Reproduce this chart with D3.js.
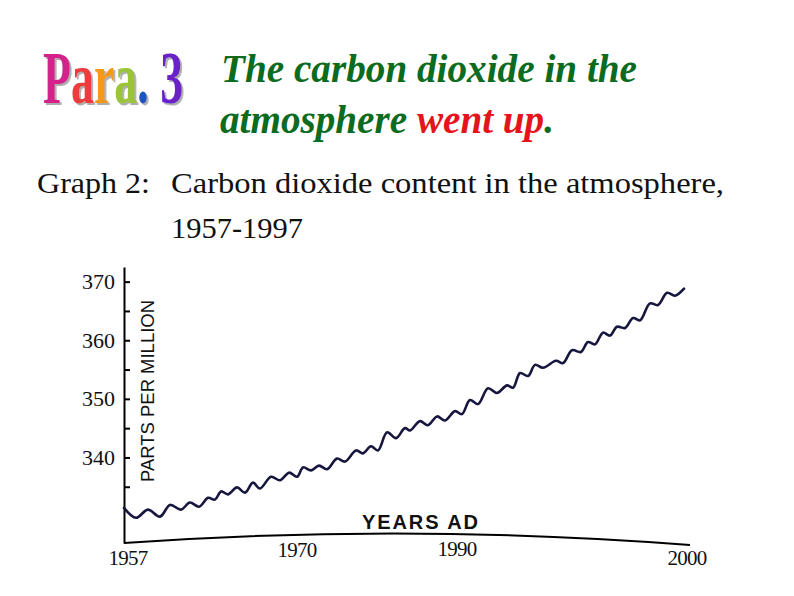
<!DOCTYPE html>
<html>
<head>
<meta charset="utf-8">
<script src="https://cdn.jsdelivr.net/npm/d3@7"></script>
<style>
  body { margin: 0; background: #fff; }
</style>
</head>
<body>
<div id="slide"></div>
<script>
// CO2 curve: the peaks and troughs of the yearly wiggle
const years = [1957.0, 1957.86, 1958.71, 1959.57, 1960.29, 1961.07, 1961.71, 1962.36, 1963.0, 1963.5,
  1963.93, 1964.43, 1965.07, 1965.64, 1966.21, 1966.71, 1967.5, 1968.14, 1968.79, 1969.36,
  1969.79, 1970.36, 1970.93, 1971.5, 1972.21, 1972.79, 1973.57, 1974.07, 1974.64, 1975.14,
  1975.79, 1976.43, 1977.07, 1977.43, 1978.14, 1978.71, 1979.36, 1979.93, 1980.64, 1981.14,
  1981.71, 1982.29, 1983.0, 1983.64, 1984.36, 1984.79, 1985.29, 1985.86, 1986.36, 1986.93,
  1987.86, 1988.36, 1989.0, 1989.64, 1990.14, 1990.64, 1991.21, 1991.71, 1992.21, 1992.79,
  1993.36, 1993.86, 1994.57, 1995.14, 1995.79, 1996.36, 1997.0];
const ppm = [331.4, 329.7, 331.1, 329.9, 331.9, 331.1, 332.3, 331.6, 333.1, 332.8,
  334.2, 333.7, 334.9, 334.0, 335.7, 334.7, 336.7, 336.1, 337.4, 336.7,
  338.3, 337.8, 338.6, 338.0, 339.8, 339.3, 341.2, 340.7, 341.9, 341.2,
  344.3, 343.3, 345.0, 344.6, 346.2, 345.5, 347.0, 346.3, 347.9, 347.4,
  349.8, 349.1, 351.8, 351.0, 352.3, 351.9, 354.4, 353.9, 355.8, 355.3,
  356.5, 356.1, 358.3, 358.0, 359.7, 359.3, 361.3, 360.8, 362.3, 362.1,
  363.8, 363.4, 366.3, 366.0, 368.1, 367.6, 368.8];

const yTickValues = [335, 340, 345, 350, 355, 360, 365, 370];
const yLabelValues = [340, 350, 360, 370];
const xTickLabels = [1957, 1970, 1990, 2000];

const titleLetters = ["P", "a", "r", "a", ".", " 3"];
const titleColors = ["#d3218c", "#ee3a3a", "#f39a1e", "#9cc43a", "#1f55c0", "#6a22c8"];

const WIDTH = 794, HEIGHT = 596;
const AXIS_X = 124, AXIS_TOP = 267, AXIS_BOTTOM = 543;

let svg = d3.select("#slide")
  .append("svg")
  .attr("width", WIDTH)
  .attr("height", HEIGHT)
  .style("font-family", "'Liberation Serif', 'Times New Roman', serif");

svg.append("rect").attr("width", WIDTH).attr("height", HEIGHT).attr("fill", "#fff");

// soft gray shadow behind the word-art
svg.append("defs")
  .append("filter")
  .attr("id", "shade")
  .attr("x", "-10%").attr("y", "-10%").attr("width", "130%").attr("height", "130%")
  .append("feDropShadow")
  .attr("dx", 3).attr("dy", 2)
  .attr("stdDeviation", 0.6)
  .attr("flood-color", "#9a9a9a")
  .attr("flood-opacity", 0.8);

// "Para. 3" word-art, squeezed sideways like the original
svg.append("text")
  .attr("transform", "translate(43,103) scale(0.62,1)")
  .attr("font-size", 74)
  .attr("font-weight", "bold")
  .attr("filter", "url(#shade)")
  .style("white-space", "pre")
  .selectAll("tspan")
  .data(titleLetters)
  .join("tspan")
    .attr("fill", (d, i) => titleColors[i])
    .text(d => d);

// green / red heading
let head = svg.append("g")
  .attr("font-size", 39)
  .attr("font-weight", "bold")
  .attr("font-style", "italic")
  .attr("fill", "#0b6b20");
head.append("text").attr("x", 221).attr("y", 82)
  .attr("textLength", 416).attr("lengthAdjust", "spacingAndGlyphs")
  .text("The carbon dioxide in the");
let line2 = head.append("text").attr("x", 220).attr("y", 133)
  .attr("textLength", 334).attr("lengthAdjust", "spacingAndGlyphs");
line2.append("tspan").text("atmosphere ");
line2.append("tspan").attr("fill", "#e5141b").text("went up");
line2.append("tspan").text(".");

// graph caption
let cap = svg.append("g").attr("font-size", 30).attr("fill", "#111");
cap.append("text").attr("x", 37).attr("y", 193)
  .attr("textLength", 113).attr("lengthAdjust", "spacingAndGlyphs").text("Graph 2:");
cap.append("text").attr("x", 171).attr("y", 193)
  .attr("textLength", 553).attr("lengthAdjust", "spacingAndGlyphs")
  .text("Carbon dioxide content in the atmosphere,");
cap.append("text").attr("x", 171).attr("y", 238)
  .attr("textLength", 132).attr("lengthAdjust", "spacingAndGlyphs").text("1957-1997");

// scales
let xScale = d3.scaleLinear().domain([1957, 1997]).range([AXIS_X, 684]);
let yScale = d3.scaleLinear().domain([325.4, 372.5]).range([AXIS_BOTTOM, AXIS_TOP]);
// the printed year labels are not evenly spaced on the original graph
let xLabelScale = d3.scaleLinear().domain(xTickLabels).range([128, 297, 457, 687]);

// y axis: ticks point into the plot
svg.append("g")
  .attr("transform", `translate(${AXIS_X},0)`)
  .call(d3.axisRight(yScale).tickValues(yTickValues).tickSizeInner(6).tickSizeOuter(0).tickFormat(""))
  .call(g => g.selectAll("path, line").attr("stroke", "#000").attr("stroke-width", 2));

svg.append("g")
  .attr("transform", `translate(${AXIS_X},0)`)
  .call(d3.axisLeft(yScale).tickValues(yLabelValues).tickSize(0).tickPadding(9))
  .call(g => g.select(".domain").remove())
  .selectAll("text")
    .attr("font-family", "'Liberation Serif', serif")
    .attr("font-size", 22)
    .attr("fill", "#111");

svg.append("text")
  .attr("transform", `translate(154, 391) rotate(-90)`)
  .attr("text-anchor", "middle")
  .attr("font-family", "'Liberation Sans', Arial, sans-serif")
  .attr("font-size", 19)
  .attr("textLength", 182)
  .attr("lengthAdjust", "spacingAndGlyphs")
  .attr("fill", "#111")
  .text("PARTS PER MILLION");

// x axis: the scanned page bows, so the baseline is a shallow arc
let bow = d3.path();
bow.moveTo(AXIS_X, AXIS_BOTTOM);
bow.quadraticCurveTo(405, 523, 690, 545);
svg.append("path")
  .attr("d", bow.toString())
  .attr("fill", "none")
  .attr("stroke", "#000")
  .attr("stroke-width", 2);

const arcY = px => 533.5 + 1.2e-4 * (px - 406) * (px - 406);

svg.append("g")
  .selectAll("text")
  .data(xTickLabels)
  .join("text")
    .attr("x", d => xLabelScale(d))
    .attr("y", d => arcY(xLabelScale(d)) + 22)
    .attr("text-anchor", "middle")
    .attr("font-size", 21)
    .attr("letter-spacing", -0.8)
    .attr("fill", "#111")
    .text(d => d);

svg.append("text")
  .attr("x", 420)
  .attr("y", 529)
  .attr("text-anchor", "middle")
  .attr("font-family", "'Liberation Sans', Arial, sans-serif")
  .attr("font-size", 20)
  .attr("font-weight", "bold")
  .attr("textLength", 116)
  .attr("lengthAdjust", "spacing")
  .attr("fill", "#111")
  .text("YEARS AD");

// the CO2 curve
let co2 = years.map((y, i) => ({ year: y, value: ppm[i] }));
let line = d3.line()
  .x(d => xScale(d.year))
  .y(d => yScale(d.value))
  .curve(d3.curveCatmullRom.alpha(0.5));

svg.append("path")
  .datum(co2)
  .attr("d", line)
  .attr("fill", "none")
  .attr("stroke", "#16163e")
  .attr("stroke-width", 2.6)
  .attr("stroke-linejoin", "round")
  .attr("stroke-linecap", "round");
</script>
</body>
</html>
